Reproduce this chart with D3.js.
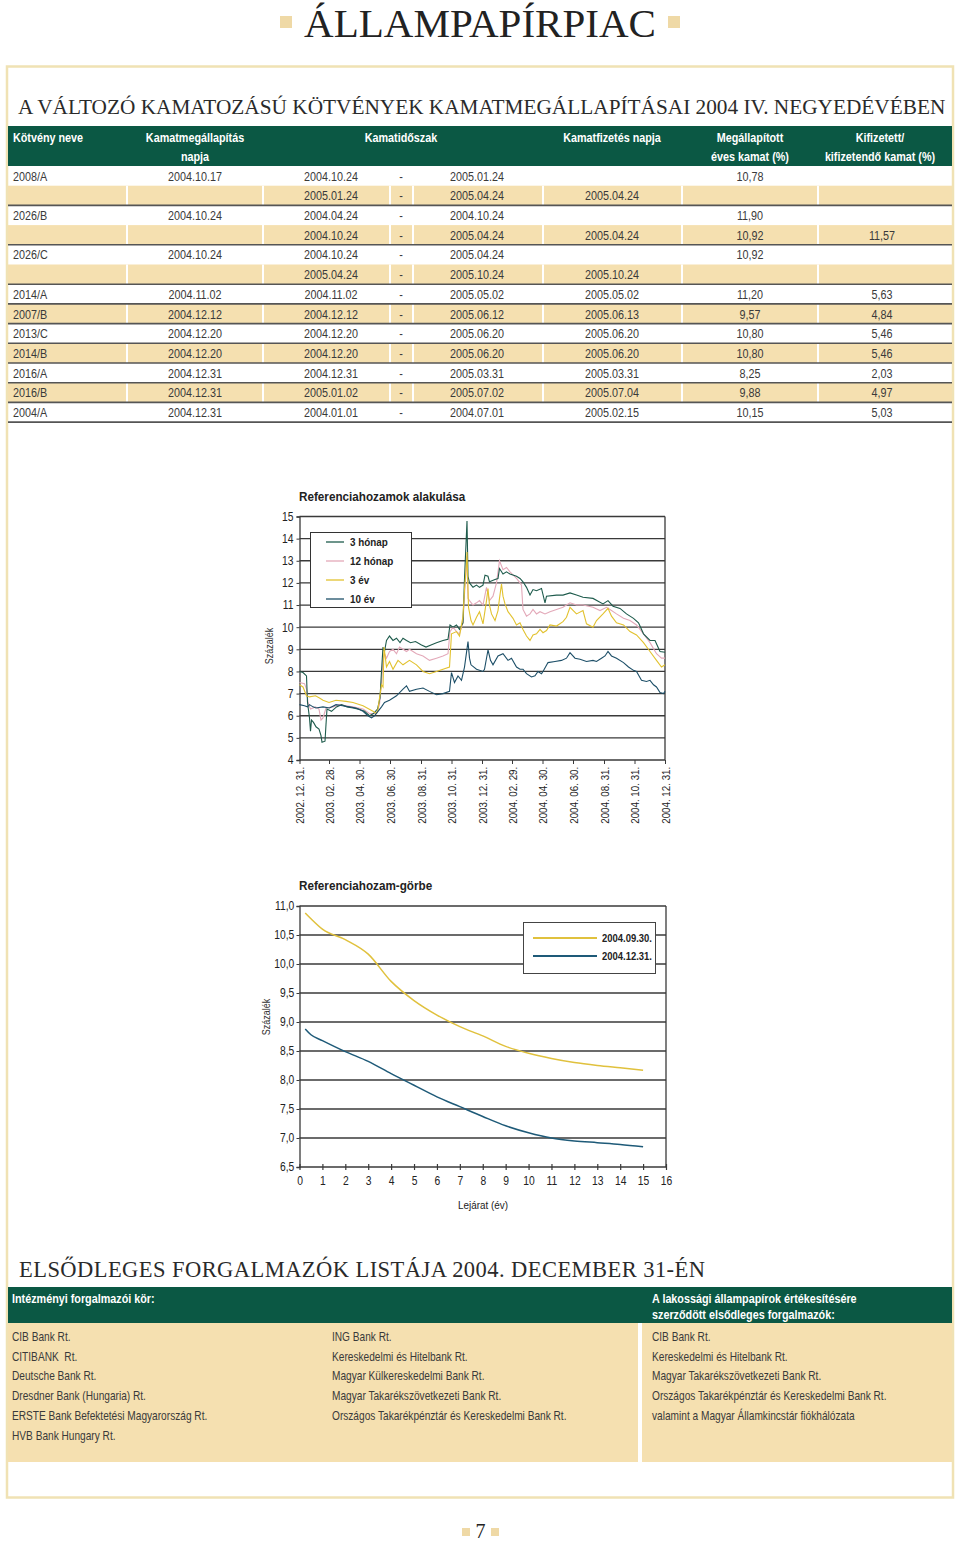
<!DOCTYPE html>
<html><head><meta charset="utf-8">
<script src="https://cdn.jsdelivr.net/npm/d3@7"></script>
<style>
body{margin:0;background:#fff;}
svg{display:block;}
.nar{font-family:'Liberation Sans',Arial,sans-serif;}
.serif{font-family:'Liberation Serif','DejaVu Serif',serif;}
</style></head><body>
<svg id="page" width="960" height="1544"></svg>
<script>
// ---------- TABLE DATA ----------
const tableHead1 = ["Kötvény neve","Kamatmegállapítás","Kamatidőszak","Kamatfizetés napja","Megállapított","Kifizetett/"];
const tableHead2 = ["","napja","","","éves kamat (%)","kifizetendő kamat (%)"];
const bondNames = ["2008/A","","2026/B","","2026/C","","2014/A","2007/B","2013/C","2014/B","2016/A","2016/B","2004/A"];
const fixingDates = ["2004.10.17","","2004.10.24","","2004.10.24","","2004.11.02","2004.12.12","2004.12.20","2004.12.20","2004.12.31","2004.12.31","2004.12.31"];
const periodStart = ["2004.10.24","2005.01.24","2004.04.24","2004.10.24","2004.10.24","2005.04.24","2004.11.02","2004.12.12","2004.12.20","2004.12.20","2004.12.31","2005.01.02","2004.01.01"];
const periodEnd = ["2005.01.24","2005.04.24","2004.10.24","2005.04.24","2005.04.24","2005.10.24","2005.05.02","2005.06.12","2005.06.20","2005.06.20","2005.03.31","2005.07.02","2004.07.01"];
const payDates = ["","2005.04.24","","2005.04.24","","2005.10.24","2005.05.02","2005.06.13","2005.06.20","2005.06.20","2005.03.31","2005.07.04","2005.02.15"];
const annualRate = ["10,78","","11,90","10,92","10,92","","11,20","9,57","10,80","10,80","8,25","9,88","10,15"];
const paidRate = ["","","","11,57","","","5,63","4,84","5,46","5,46","2,03","4,97","5,03"];
const shadedRows = [1,3,5,7,9,11];
const ruledRows = [1,3,5,6,7,8,9,10,11,12];

// ---------- CHART 1 DATA ----------
const seriesNames = ["3 hónap","12 hónap","3 év","10 év"];
const dateTicks = ["2002-12-31","2003-02-28","2003-04-30","2003-06-30","2003-08-31","2003-10-31","2003-12-31","2004-02-29","2004-04-30","2004-06-30","2004-08-31","2004-10-31","2004-12-31"];
const yTicks1 = [4,5,6,7,8,9,10,11,12,13,14,15];
const s3m = [["2002-12-31",8.0],["2003-01-07",7.95],["2003-01-14",7.8],["2003-01-16",6.6],["2003-01-20",5.9],["2003-01-22",5.3],["2003-01-24",5.8],["2003-01-28",5.7],["2003-02-02",5.5],["2003-02-08",5.4],["2003-02-12",5.1],["2003-02-14",4.8],["2003-02-20",4.85],["2003-02-22",5.6],["2003-02-24",6.3],["2003-03-05",6.2],["2003-03-15",6.4],["2003-03-25",6.5],["2003-04-05",6.4],["2003-04-17",6.35],["2003-04-28",6.3],["2003-05-10",6.2],["2003-05-20",6.0],["2003-05-28",6.1],["2003-06-05",6.3],["2003-06-10",6.8],["2003-06-13",8.0],["2003-06-16",9.1],["2003-06-19",8.9],["2003-06-23",9.4],["2003-06-29",9.6],["2003-07-06",9.4],["2003-07-13",9.5],["2003-07-20",9.3],["2003-07-26",9.5],["2003-08-02",9.4],["2003-08-10",9.3],["2003-08-20",9.35],["2003-09-01",9.2],["2003-09-10",9.1],["2003-09-20",9.2],["2003-10-01",9.3],["2003-10-14",9.4],["2003-10-24",9.45],["2003-10-28",10.1],["2003-11-03",10.0],["2003-11-10",10.1],["2003-11-16",9.9],["2003-11-23",10.2],["2003-11-26",12.2],["2003-12-01",14.8],["2003-12-03",12.3],["2003-12-06",12.0],["2003-12-13",11.8],["2003-12-20",11.9],["2003-12-26",11.8],["2004-01-02",11.9],["2004-01-06",12.35],["2004-01-12",12.3],["2004-01-15",12.05],["2004-01-26",12.15],["2004-02-01",12.2],["2004-02-04",12.65],["2004-02-11",12.4],["2004-02-18",12.5],["2004-02-25",12.4],["2004-03-09",12.3],["2004-03-16",12.2],["2004-03-22",12.05],["2004-03-29",11.8],["2004-04-05",11.45],["2004-04-11",11.7],["2004-04-18",11.65],["2004-04-28",11.75],["2004-05-05",11.1],["2004-05-08",11.4],["2004-05-28",11.45],["2004-06-10",11.45],["2004-06-24",11.55],["2004-07-07",11.45],["2004-07-20",11.35],["2004-08-09",11.3],["2004-08-29",11.05],["2004-09-08",11.2],["2004-09-18",10.95],["2004-10-02",10.85],["2004-10-15",10.6],["2004-10-29",10.4],["2004-11-08",10.2],["2004-11-11",10.05],["2004-11-18",9.7],["2004-12-01",9.4],["2004-12-11",9.4],["2004-12-21",8.9],["2004-12-31",8.87]];
const s12m = [["2002-12-31",7.5],["2003-01-10",7.45],["2003-01-14",7.2],["2003-01-17",6.6],["2003-01-22",6.3],["2003-02-01",6.4],["2003-02-08",6.3],["2003-02-12",5.8],["2003-02-16",5.9],["2003-02-22",6.35],["2003-03-08",6.4],["2003-03-21",6.5],["2003-04-03",6.45],["2003-04-17",6.4],["2003-05-07",6.3],["2003-05-20",6.1],["2003-06-03",6.1],["2003-06-09",6.5],["2003-06-13",7.5],["2003-06-16",8.5],["2003-06-19",8.8],["2003-06-23",8.6],["2003-06-29",8.9],["2003-07-06",9.0],["2003-07-13",8.8],["2003-07-19",9.1],["2003-07-26",9.0],["2003-08-02",8.9],["2003-08-08",9.0],["2003-08-15",8.9],["2003-08-22",8.8],["2003-09-04",8.7],["2003-09-17",8.5],["2003-10-01",8.6],["2003-10-14",8.7],["2003-10-24",8.8],["2003-10-28",9.8],["2003-11-03",10.0],["2003-11-10",9.8],["2003-11-16",9.7],["2003-11-23",10.2],["2003-11-26",11.5],["2003-12-01",13.2],["2003-12-03",11.3],["2003-12-06",11.2],["2003-12-13",11.0],["2003-12-20",11.1],["2003-12-26",11.2],["2004-01-02",11.0],["2004-01-09",11.8],["2004-01-15",11.2],["2004-01-22",11.4],["2004-01-29",12.0],["2004-02-04",13.0],["2004-02-11",12.6],["2004-02-18",12.7],["2004-02-25",12.5],["2004-03-09",12.2],["2004-03-16",12.0],["2004-03-19",11.9],["2004-03-22",10.8],["2004-03-29",10.5],["2004-04-05",10.6],["2004-04-11",10.8],["2004-04-18",10.6],["2004-04-25",10.7],["2004-05-05",10.6],["2004-05-15",10.7],["2004-05-28",10.8],["2004-06-10",10.9],["2004-06-24",11.1],["2004-07-07",11.0],["2004-07-20",11.0],["2004-08-09",10.9],["2004-08-23",10.75],["2004-09-05",10.9],["2004-09-12",10.8],["2004-09-25",10.6],["2004-10-09",10.4],["2004-10-22",10.3],["2004-11-04",10.1],["2004-11-11",9.9],["2004-11-18",9.7],["2004-12-01",9.3],["2004-12-14",8.8],["2004-12-24",8.6],["2004-12-31",8.6]];
const s3y = [["2002-12-31",7.4],["2003-01-07",7.3],["2003-01-14",6.9],["2003-01-20",6.85],["2003-02-01",6.9],["2003-02-09",6.8],["2003-02-16",6.7],["2003-02-28",6.6],["2003-03-14",6.7],["2003-04-03",6.65],["2003-04-17",6.6],["2003-05-07",6.45],["2003-05-27",6.2],["2003-06-03",6.1],["2003-06-06",6.3],["2003-06-09",6.8],["2003-06-13",7.4],["2003-06-16",7.3],["2003-06-18",9.1],["2003-06-23",8.2],["2003-06-29",8.45],["2003-07-06",8.1],["2003-07-16",8.5],["2003-07-26",8.3],["2003-08-08",8.5],["2003-08-22",8.3],["2003-09-04",8.0],["2003-09-17",7.9],["2003-10-01",8.0],["2003-10-14",8.1],["2003-10-27",8.2],["2003-10-31",9.7],["2003-11-10",9.8],["2003-11-16",9.6],["2003-11-23",10.5],["2003-11-26",11.7],["2003-11-30",12.9],["2003-12-01",13.4],["2003-12-04",10.9],["2003-12-09",10.3],["2003-12-13",10.1],["2003-12-20",10.45],["2003-12-26",10.7],["2004-01-02",10.15],["2004-01-09",11.2],["2004-01-12",11.75],["2004-01-15",11.0],["2004-01-19",10.6],["2004-01-26",10.3],["2004-02-01",10.75],["2004-02-04",11.3],["2004-02-08",11.95],["2004-02-11",11.4],["2004-02-15",11.05],["2004-02-21",10.7],["2004-03-02",10.4],["2004-03-09",10.1],["2004-03-16",10.2],["2004-03-22",9.9],["2004-03-29",9.6],["2004-04-05",9.4],["2004-04-11",9.65],["2004-04-18",9.7],["2004-04-25",9.9],["2004-05-01",9.75],["2004-05-08",9.85],["2004-05-15",10.1],["2004-05-28",10.05],["2004-06-10",10.25],["2004-06-17",10.45],["2004-06-24",10.9],["2004-07-07",10.6],["2004-07-20",10.75],["2004-07-27",10.15],["2004-08-09",10.0],["2004-08-16",10.3],["2004-08-29",10.6],["2004-09-08",10.85],["2004-09-15",10.5],["2004-09-25",10.2],["2004-10-09",10.1],["2004-10-22",9.8],["2004-11-04",9.65],["2004-11-18",9.3],["2004-12-01",8.9],["2004-12-14",8.5],["2004-12-24",8.2],["2004-12-31",8.3]];
const s10y = [["2002-12-31",6.5],["2003-01-10",6.45],["2003-01-16",6.4],["2003-01-20",6.5],["2003-01-27",6.4],["2003-02-02",6.35],["2003-02-16",6.4],["2003-03-01",6.35],["2003-03-14",6.5],["2003-03-27",6.45],["2003-04-10",6.4],["2003-04-23",6.35],["2003-05-07",6.2],["2003-05-17",6.0],["2003-05-24",5.9],["2003-05-30",6.0],["2003-06-06",6.2],["2003-06-13",6.4],["2003-06-19",6.6],["2003-06-29",6.7],["2003-07-13",6.9],["2003-07-26",7.2],["2003-08-02",7.35],["2003-08-08",7.1],["2003-08-22",7.2],["2003-09-04",7.25],["2003-09-17",7.1],["2003-10-01",6.95],["2003-10-14",7.0],["2003-10-27",7.1],["2003-10-31",7.95],["2003-11-06",7.5],["2003-11-13",7.8],["2003-11-20",7.6],["2003-11-26",8.2],["2003-12-03",9.35],["2003-12-06",8.6],["2003-12-09",8.3],["2003-12-20",8.1],["2004-01-02",8.0],["2004-01-05",8.1],["2004-01-12",8.97],["2004-01-17",8.5],["2004-01-22",8.3],["2004-02-01",8.7],["2004-02-11",8.8],["2004-02-21",8.5],["2004-02-28",8.6],["2004-03-09",8.2],["2004-03-16",8.1],["2004-03-22",8.1],["2004-03-29",7.9],["2004-04-08",7.75],["2004-04-15",7.8],["2004-04-21",8.0],["2004-04-28",7.9],["2004-05-01",8.0],["2004-05-11",8.4],["2004-05-25",8.45],["2004-06-07",8.5],["2004-06-17",8.6],["2004-06-24",8.85],["2004-07-04",8.6],["2004-07-14",8.55],["2004-07-27",8.45],["2004-08-09",8.5],["2004-08-16",8.45],["2004-08-26",8.6],["2004-09-02",8.7],["2004-09-08",8.9],["2004-09-15",8.7],["2004-09-25",8.6],["2004-10-09",8.4],["2004-10-19",8.2],["2004-10-29",8.05],["2004-11-04",8.0],["2004-11-14",7.6],["2004-11-24",7.55],["2004-12-01",7.6],["2004-12-08",7.4],["2004-12-14",7.3],["2004-12-21",7.05],["2004-12-28",7.0],["2004-12-31",7.1]];

// ---------- CHART 2 DATA ----------
const curveNames = ["2004.09.30.","2004.12.31."];
const maturities = [0.25,0.5,1,2,3,4,5,6,7,8,9,10,11,12,13,14,15];
const curveSep = [10.88,10.78,10.6,10.42,10.17,9.7,9.37,9.12,8.92,8.76,8.58,8.46,8.37,8.3,8.25,8.21,8.17];
const curveDec = [8.88,8.78,8.68,8.49,8.32,8.11,7.91,7.71,7.54,7.37,7.21,7.09,7.0,6.95,6.92,6.89,6.85];
const yTicks2 = [6.5,7.0,7.5,8.0,8.5,9.0,9.5,10.0,10.5,11.0];
const xTicks2 = [0,1,2,3,4,5,6,7,8,9,10,11,12,13,14,15,16];

// ---------- DEALER LISTS ----------
const instHeader = "Intézményi forgalmazói kör:";
const retailHeader = ["A lakossági állampapírok értékesítésére","szerződött elsődleges forgalmazók:"];
const instCol1 = ["CIB Bank Rt.","CITIBANK  Rt.","Deutsche Bank Rt.","Dresdner Bank (Hungaria) Rt.","ERSTE Bank Befektetési Magyarország Rt.","HVB Bank Hungary Rt."];
const instCol2 = ["ING Bank Rt.","Kereskedelmi és Hitelbank Rt.","Magyar Külkereskedelmi Bank Rt.","Magyar Takarékszövetkezeti Bank Rt.","Országos Takarékpénztár és Kereskedelmi Bank Rt."];
const retailList = ["CIB Bank Rt.","Kereskedelmi és Hitelbank Rt.","Magyar Takarékszövetkezeti Bank Rt.","Országos Takarékpénztár és Kereskedelmi Bank Rt.","valamint a Magyar Államkincstár fiókhálózata"];

// ---------- STYLE ----------
const GREEN = "#0b5844", TAN = "#f5e0b0", BORDER = "#f0e2b4", SQ = "#efd9a6";
const TXT = "#3a3a3a", GRID = "#3a3a3a";
const seriesColors = ["#1e5b4c","#e3a9b9","#e2c22f","#1d4f68"];
const curveColors = ["#e0c13d","#1e5a78"];
const K = 0.86; // horizontal condensing of the sans text

function cond(sel, k){
  k = k || K;
  sel.attr("transform", function(){
    const x = +this.getAttribute("x") || 0, y = +this.getAttribute("y") || 0;
    this.setAttribute("x", 0); this.setAttribute("y", 0);
    return `translate(${x},${y}) scale(${k},1)`;
  });
}
function fitWidth(sel, x, y, w){
  const n = sel.node().getComputedTextLength();
  sel.attr("x",0).attr("y",0).attr("transform",`translate(${x},${y}) scale(${w/n},1)`);
}
function spreadWidth(sel, w){
  const t = sel.text(), n = sel.node().getComputedTextLength();
  sel.attr("letter-spacing", ((w - n)/(t.length-1)).toFixed(3));
}

const svg = d3.select("#page");
svg.append("rect").attr("width",960).attr("height",1544).attr("fill","#fff");

// Title
const title = svg.append("text").attr("class","serif").attr("font-size",40).attr("fill","#222").text("ÁLLAMPAPÍRPIAC");
fitWidth(title, 304, 37, 352);
svg.selectAll("rect.tsq").data([280,668]).join("rect").attr("class","tsq")
  .attr("x",d=>d).attr("y",16).attr("width",12).attr("height",12).attr("fill",SQ);

// Page border
svg.append("rect").attr("x",7).attr("y",66.5).attr("width",946).attr("height",1431)
  .attr("fill","none").attr("stroke",BORDER).attr("stroke-width",2.5);

// Section title
const sec = svg.append("text").attr("class","serif").attr("font-size",22).attr("fill","#2a2a2a")
  .text("A VÁLTOZÓ KAMATOZÁSÚ KÖTVÉNYEK KAMATMEGÁLLAPÍTÁSAI 2004 IV. NEGYEDÉVÉBEN");
fitWidth(sec, 18, 114, 928);

// ---------- TABLE ----------
const colEdges = [8,127,263,390,413,543,682,818,952];
const tblTop = 166, rowH = 19.7;
const tbl = svg.append("g").attr("class","nar");
tbl.append("rect").attr("x",8).attr("y",126).attr("width",944).attr("height",40).attr("fill",GREEN);
const headX = [13,195,401,612,750,880];
const headAnchor = ["start","middle","middle","middle","middle","middle"];
tbl.selectAll("text.h1").data(tableHead1).join("text").attr("class","h1")
  .attr("x",(d,i)=>headX[i]).attr("y",142).attr("text-anchor",(d,i)=>headAnchor[i])
  .attr("fill","#fff").attr("font-size",13).attr("font-weight","bold").text(d=>d).call(cond,0.83);
tbl.selectAll("text.h2").data(tableHead2).join("text").attr("class","h2")
  .attr("x",(d,i)=>headX[i]).attr("y",161).attr("text-anchor",(d,i)=>headAnchor[i])
  .attr("fill","#fff").attr("font-size",13).attr("font-weight","bold").text(d=>d).call(cond,0.83);

const rowIdx = d3.range(bondNames.length);
const yRow = d3.scaleBand().domain(rowIdx).range([tblTop, tblTop + rowH*rowIdx.length]).padding(0);
tbl.selectAll("rect.shade").data(shadedRows).join("rect").attr("class","shade")
  .attr("x",8).attr("y",d=>yRow(d)).attr("width",944).attr("height",yRow.bandwidth()).attr("fill",TAN);
shadedRows.forEach(r=>{
  tbl.selectAll(null).data(colEdges.slice(1,-1)).join("line")
    .attr("x1",d=>d).attr("x2",d=>d).attr("y1",yRow(r)).attr("y2",yRow(r)+yRow.bandwidth())
    .attr("stroke","#fff").attr("stroke-width",2);
});
tbl.selectAll("line.rule").data(ruledRows).join("line").attr("class","rule")
  .attr("x1",8).attr("x2",952).attr("y1",d=>yRow(d)+yRow.bandwidth()).attr("y2",d=>yRow(d)+yRow.bandwidth())
  .attr("stroke","#555").attr("stroke-width",1.6);

const cols = [
  {vals:bondNames,x:13,a:"start"},
  {vals:fixingDates,x:195,a:"middle"},
  {vals:periodStart,x:331,a:"middle"},
  {vals:rowIdx.map(()=>"-"),x:401,a:"middle"},
  {vals:periodEnd,x:477,a:"middle"},
  {vals:payDates,x:612,a:"middle"},
  {vals:annualRate,x:750,a:"middle"},
  {vals:paidRate,x:882,a:"middle"}
];
cols.forEach(c=>{
  tbl.selectAll(null).data(c.vals).join("text")
    .attr("x",c.x).attr("y",(d,i)=>yRow(i)+rowH/2+4.8).attr("text-anchor",c.a)
    .attr("font-size",13).attr("fill",TXT).text(d=>d).call(cond,0.83);
});

// ---------- CHART 1 ----------
const c1 = svg.append("g").attr("class","nar");
const parse = d3.timeParse("%Y-%m-%d");
const x1 = d3.scaleTime().domain([parse("2002-12-31"),parse("2004-12-31")]).range([299.5,665]);
const y1 = d3.scaleLinear().domain([4,15]).range([760,516.5]);
c1.append("text").attr("x",299).attr("y",501).attr("font-size",13).attr("font-weight","bold")
  .attr("fill","#222").text("Referenciahozamok alakulása").call(cond,0.9);
c1.selectAll("line.g").data(yTicks1).join("line").attr("class","g")
  .attr("x1",299.5).attr("x2",665).attr("y1",d=>y1(d)).attr("y2",d=>y1(d))
  .attr("stroke",GRID).attr("stroke-width",1.3);
c1.append("line").attr("x1",665).attr("x2",665).attr("y1",y1(15)).attr("y2",y1(4)).attr("stroke",GRID).attr("stroke-width",1.3);
const ax1y = d3.axisLeft(y1).tickValues(yTicks1).tickSize(3).tickFormat(d3.format("d"));
c1.append("g").attr("transform","translate(299.5,0)").call(ax1y)
  .call(g=>{g.select(".domain").attr("stroke",GRID).attr("stroke-width",1.3);
    g.selectAll(".tick line").attr("stroke",GRID);
    g.selectAll(".tick text").attr("font-size",12).attr("font-family",null).attr("fill","#222").attr("x",-7)
      .attr("transform",`scale(${K},1)`);});
const ax1x = d3.axisBottom(x1).tickValues(dateTicks.map(parse)).tickSize(4).tickFormat(d3.timeFormat("%Y. %m. %d."));
c1.append("g").attr("transform","translate(0,760)").call(ax1x)
  .call(g=>{g.select(".domain").remove();
    g.selectAll(".tick line").attr("stroke",GRID);
    g.selectAll(".tick text").attr("font-size",11.5).attr("font-family",null).attr("fill","#222")
      .attr("transform","rotate(-90) scale(0.85,1)").attr("text-anchor","end").attr("x",-8).attr("y",0).attr("dy","0.35em");});
c1.append("text").attr("x",0).attr("y",0).attr("transform","translate(273,646) rotate(-90) scale(0.9,1)").attr("text-anchor","middle")
  .attr("font-size",10).attr("fill","#333").text("Százalék");
const line1 = d3.line().x(d=>x1(parse(d[0]))).y(d=>y1(d[1]));
const allSeries = [s3m,s12m,s3y,s10y];
const drawOrder = [1,0,2,3];
c1.selectAll("path.s").data(drawOrder).join("path").attr("class","s")
  .attr("d",i=>line1(allSeries[i])).attr("fill","none").attr("stroke",i=>seriesColors[i]).attr("stroke-width",1.1);
const lg1 = c1.append("g");
lg1.append("rect").attr("x",310.5).attr("y",532.5).attr("width",101).attr("height",75).attr("fill","#fff").attr("stroke","#333");
const lgY = d3.scalePoint().domain(seriesNames).range([542,599]);
lg1.selectAll("line").data(seriesNames).join("line").attr("x1",326).attr("x2",344)
  .attr("y1",d=>lgY(d)).attr("y2",d=>lgY(d)).attr("stroke",(d,i)=>seriesColors[i]).attr("stroke-width",1.3);
lg1.selectAll("text").data(seriesNames).join("text").attr("x",350).attr("y",d=>lgY(d)+4)
  .attr("font-size",11.5).attr("font-weight","bold").attr("fill","#222").text(d=>d).call(cond);

// ---------- CHART 2 ----------
const c2 = svg.append("g").attr("class","nar");
const x2 = d3.scaleLinear().domain([0,16]).range([299.5,666]);
const y2 = d3.scaleLinear().domain([6.5,11]).range([1167,906]);
c2.append("text").attr("x",299).attr("y",890).attr("font-size",13).attr("font-weight","bold")
  .attr("fill","#222").text("Referenciahozam-görbe").call(cond,0.9);
c2.selectAll("line.g").data(yTicks2).join("line").attr("class","g")
  .attr("x1",299.5).attr("x2",666).attr("y1",d=>y2(d)).attr("y2",d=>y2(d))
  .attr("stroke",GRID).attr("stroke-width",1.3);
c2.append("line").attr("x1",666).attr("x2",666).attr("y1",y2(11)).attr("y2",y2(6.5)).attr("stroke",GRID).attr("stroke-width",1.3);
const fmtC = v=>d3.format(".1f")(v).replace(".",",");
c2.append("g").attr("transform","translate(299.5,0)").call(d3.axisLeft(y2).tickValues(yTicks2).tickSize(3).tickFormat(fmtC))
  .call(g=>{g.select(".domain").attr("stroke",GRID).attr("stroke-width",1.3);
    g.selectAll(".tick line").attr("stroke",GRID);
    g.selectAll(".tick text").attr("font-size",12).attr("font-family",null).attr("fill","#222").attr("x",-6)
      .attr("transform",`scale(${K},1)`);});
c2.append("g").attr("transform","translate(0,1167)").call(d3.axisBottom(x2).tickValues(xTicks2).tickSize(3).tickFormat(d3.format("d")))
  .call(g=>{g.select(".domain").remove();
    g.selectAll(".tick line").attr("stroke",GRID).attr("y1",-3).attr("stroke-width",1.2);
    g.selectAll(".tick text").attr("font-size",12).attr("font-family",null).attr("fill","#222").attr("y",9)
      .attr("transform",`scale(${K},1)`);});
c2.append("text").attr("x",483).attr("y",1209).attr("text-anchor","middle").attr("font-size",11.5).attr("fill","#222").text("Lejárat (év)").call(cond);
c2.append("text").attr("x",0).attr("y",0).attr("transform","translate(270,1017) rotate(-90) scale(0.9,1)").attr("text-anchor","middle")
  .attr("font-size",10).attr("fill","#333").text("Százalék");
const line2 = d3.line().x((d,i)=>x2(maturities[i])).y(d=>y2(d)).curve(d3.curveMonotoneX);
c2.selectAll("path.c").data([curveSep,curveDec]).join("path").attr("class","c")
  .attr("d",d=>line2(d)).attr("fill","none").attr("stroke",(d,i)=>curveColors[i]).attr("stroke-width",1.5);
const lg2 = c2.append("g");
lg2.append("rect").attr("x",523.5).attr("y",922.5).attr("width",132).attr("height",51).attr("fill","#fff").attr("stroke","#444");
const lg2Y = d3.scalePoint().domain(curveNames).range([938,956]);
lg2.selectAll("line").data(curveNames).join("line").attr("x1",533).attr("x2",597)
  .attr("y1",d=>lg2Y(d)).attr("y2",d=>lg2Y(d)).attr("stroke",(d,i)=>curveColors[i]).attr("stroke-width",2);
lg2.selectAll("text").data(curveNames).join("text").attr("x",602).attr("y",d=>lg2Y(d)+4)
  .attr("font-size",11).attr("font-weight","bold").attr("fill","#222").text(d=>d).call(cond);

// ---------- DEALERS ----------
const bh = svg.append("text").attr("class","serif").attr("x",19).attr("y",1277).attr("font-size",22.5).attr("fill","#2a2a2a")
  .text("ELSŐDLEGES FORGALMAZÓK LISTÁJA 2004. DECEMBER 31-ÉN");
spreadWidth(bh, 686);
const dl = svg.append("g").attr("class","nar");
dl.append("rect").attr("x",8).attr("y",1287).attr("width",944).attr("height",36).attr("fill",GREEN);
dl.append("text").attr("x",12).attr("y",1303).attr("font-size",13).attr("font-weight","bold").attr("fill","#fff").text(instHeader).call(cond,0.83);
dl.selectAll("text.rh").data(retailHeader).join("text").attr("class","rh").attr("x",652).attr("y",(d,i)=>1303+i*16)
  .attr("font-size",13).attr("font-weight","bold").attr("fill","#fff").text(d=>d).call(cond,0.83);
dl.append("rect").attr("x",8).attr("y",1323).attr("width",630).attr("height",139).attr("fill",TAN);
dl.append("rect").attr("x",642).attr("y",1323).attr("width",310).attr("height",139).attr("fill",TAN);
const listY = i=>1341+i*19.7;
[[instCol1,12],[instCol2,332],[retailList,652]].forEach(([arr,x])=>{
  dl.selectAll(null).data(arr).join("text").attr("x",x).attr("y",(d,i)=>listY(i))
    .attr("font-size",13).attr("fill",TXT).style("white-space","pre").text(d=>d).call(cond,0.78);
});

// Page number
svg.append("text").attr("class","serif").attr("x",480.5).attr("y",1538).attr("text-anchor","middle")
  .attr("font-size",20).attr("fill","#222").text("7");
svg.selectAll("rect.psq").data([462,491]).join("rect").attr("class","psq")
  .attr("x",d=>d).attr("y",1528).attr("width",8).attr("height",8).attr("fill",SQ);
</script>
</body></html>
